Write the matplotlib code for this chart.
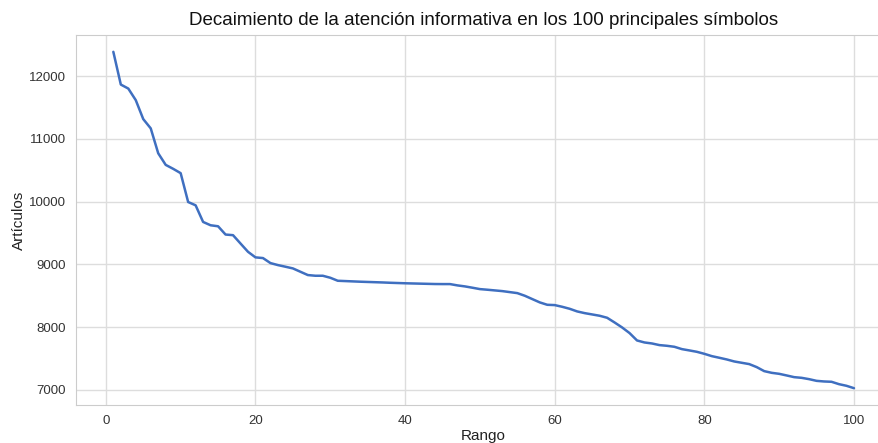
import matplotlib
matplotlib.use("Agg")
import matplotlib.pyplot as plt
import seaborn as sns

# Article counts for the top 100 symbols
ranks = list(range(1, 101))
articles = [
    12390, 11868, 11804, 11619, 11317, 11169, 10772, 10587, 10524, 10455,
    9995, 9942, 9677, 9624, 9608, 9476, 9466, 9333, 9201, 9112,
    9101, 9021, 8989, 8963, 8936, 8883, 8830, 8819, 8819, 8787,
    8739, 8734, 8729, 8724, 8720, 8716, 8712, 8707, 8703, 8699,
    8696, 8693, 8690, 8687, 8686, 8686, 8665, 8649, 8628, 8606,
    8596, 8585, 8574, 8558, 8542, 8500, 8447, 8394, 8356, 8351,
    8324, 8292, 8250, 8223, 8202, 8181, 8149, 8074, 7995, 7905,
    7787, 7755, 7739, 7713, 7702, 7686, 7649, 7628, 7606, 7574,
    7537, 7511, 7484, 7452, 7431, 7410, 7362, 7298, 7271, 7255,
    7229, 7202, 7191, 7170, 7143, 7133, 7128, 7090, 7064, 7026,
]

title = "Decaimiento de la atención informativa en los 100 principales símbolos"
xlabel = "Rango"
ylabel = "Artículos"

sns.set_style("whitegrid")
plt.rcParams["font.family"] = ["Liberation Sans", "DejaVu Sans"]

fig = plt.figure(figsize=(8.79, 4.43), dpi=100)
ax = fig.add_axes([76.3 / 879, 38 / 443, (891 - 76.3) / 879, (405 - 35) / 443])

ax.plot(ranks, articles, color="#3f6fc0", linewidth=1.8)

ax.set_title(title, fontsize=13.5, pad=7, color="#111111")
ax.set_xlabel(xlabel, fontsize=11, labelpad=1, color="#222222")
ax.set_ylabel(ylabel, fontsize=11, labelpad=2, color="#222222")
ax.tick_params(labelsize=9.5, colors="#333333", pad=4)
ax.set_yticks([7000, 8000, 9000, 10000, 11000, 12000])

for s in ax.spines.values():
    s.set_color("#cccccc")
ax.grid(color="#dddddd", linewidth=1)

fig.savefig("out.png", dpi=100)
